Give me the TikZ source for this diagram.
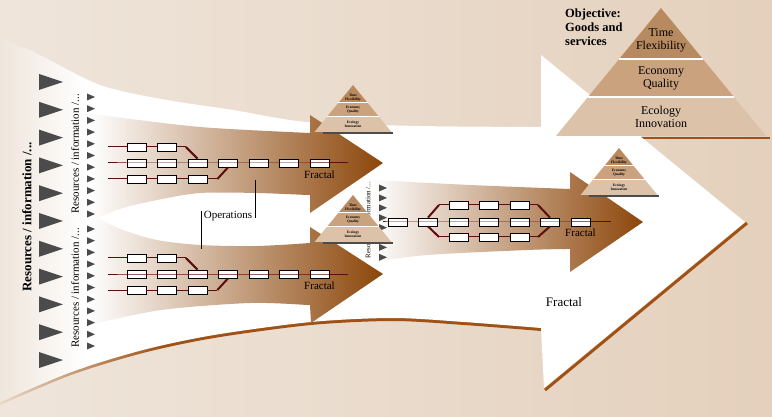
\documentclass[tikz,border=0pt]{standalone}
\usepackage{fontspec}
\setmainfont{Liberation Serif}
\usetikzlibrary{positioning}
\definecolor{bglight}{RGB}{239,229,219}
\definecolor{bgright}{RGB}{228,208,188}
\definecolor{bgbeige}{RGB}{232,216,200}
\definecolor{bandbrown}{RGB}{140,70,10}
\definecolor{shadowbrown}{RGB}{160,82,22}
\definecolor{chainred}{RGB}{92,14,14}
\definecolor{tridark}{RGB}{75,75,75}
\definecolor{pyrtop}{RGB}{184,138,96}
\definecolor{pyrmid}{RGB}{202,162,126}
\definecolor{pyrlow}{RGB}{220,194,168}
\pgfdeclarehorizontalshading{shadowfade}{100bp}{color(0bp)=(bgbeige); color(25bp)=(bgbeige); color(40bp)=(shadowbrown); color(100bp)=(shadowbrown)}
\tikzstyle{link} = [chainred, line width=1pt]

\begin{document}
\begin{tikzpicture}[x=1pt, y=-1pt,
    box/.style={draw=black, fill=white, line width=0.8pt, minimum width=19pt, minimum height=8pt, inner sep=0pt},
    fork/.style={chainred, line width=2pt},
    lbl/.style={inner sep=0pt, font=\fontsize{11}{13}\selectfont},
    restxt/.style={rotate=90, inner sep=0pt, font=\fontsize{11}{13}\selectfont},
    pyrtxt/.style={inner sep=0pt, align=center, font=\fontsize{12}{13}\selectfont},
    tinytxt/.style={inner sep=0pt, align=center, font=\bfseries\fontsize{3.6}{4.2}\selectfont},
  ]

  % Background
  \useasboundingbox (0,0) rectangle (772,417);
  \shade[left color=bglight, right color=bgright] (0,0) rectangle (772,417);

  % Shadows under the big arrow
  \draw[shadowbrown, line width=2.5pt] (557,138) -- (770,138);
  \shade[shading=shadowfade] (0,300) -- plot[smooth] coordinates {(0,405) (71,375) (143,353) (214,338) (311,325) (393,321) (464,325) (541,331)} -- (541,300) -- cycle;
  \draw[shadowbrown, line width=3pt] (545,390) -- (747,223);

  % Big white arrow
  \path[fill=white, save path=\bigarrow]
    plot[smooth] coordinates {(0,40) (33,52) (100,85) (167,100) (233,110) (307,122) (420,126) (541,127)}
    -- (541,55) -- (745,222) -- (544,388) -- (541,328)
    -- plot[smooth] coordinates {(541,328) (464,322) (393,318) (311,322) (214,335) (143,350) (71,372) (0,402)} -- cycle;
  \begin{scope}
    \clip[use path=\bigarrow];
    \shade[left color=bglight, right color=white] (0,30) rectangle (85,410);
  \end{scope}

  % Brown arrows
  \shade[left color=white, right color=bandbrown]
    (90,113) -- plot[smooth] coordinates {(100,115) (200,127) (310,133)}
    -- (310,115) -- (383,163) -- (310,213) -- (310,195)
    -- plot[smooth] coordinates {(307,195) (257,193) (200,193) (157,200) (123,208) (97,218) (90,222)} -- cycle;
  \shade[left color=white, right color=bandbrown]
    (90,214) -- plot[smooth] coordinates {(97,218) (123,230) (157,240) (200,245) (257,246) (310,243)}
    -- (310,227) -- (383,274) -- (311,323) -- (310,305)
    -- plot[smooth] coordinates {(307,305) (250,303) (161,310) (89,325)} -- cycle;
  \shade[left color=white, right color=bandbrown]
    (372,180) -- plot[smooth] coordinates {(374,180) (470,185) (570,189)}
    -- (570,172) -- (643,222) -- (570,272) -- (570,249)
    -- plot[smooth] coordinates {(567,249) (527,250) (427,255) (374,262)} -- (372,262) -- cycle;

  % Inputs
  \foreach \k in {0,...,10} {
    \pgfmathsetmacro\ty{82+27.8*\k}
    \fill[tridark] (39,\ty-8) -- (63,\ty) -- (39,\ty+8) -- cycle;
    \pgfmathsetmacro\ta{97+11.7*\k}
    \pgfmathsetmacro\tb{229+11.7*\k}
    \fill[tridark] (87,\ta-3.5) -- (95,\ta) -- (87,\ta+3.5) -- cycle;
    \fill[tridark] (87,\tb-3.5) -- (95,\tb) -- (87,\tb+3.5) -- cycle;
  }
  \foreach \k in {0,...,7} {
    \pgfmathsetmacro\tm{188+9.9*\k}
    \fill[tridark] (379,\tm-3.5) -- (387,\tm) -- (379,\tm+3.5) -- cycle;
  }
  \node[restxt, font=\bfseries\fontsize{13}{15}\selectfont] (resmain) at (27,217) {Resources / information /...};
  \node[restxt] (resup) at (75,154) {Resources / information /...};
  \node[restxt] (reslo) at (75,288) {Resources / information /...};
  \node[restxt, font=\fontsize{7}{8}\selectfont] (resmid) at (368,220) {Resources / information /...};

  % Process chains
  \foreach \ch/\dy in {u/0, l/111} {
    \foreach \i in {1,2} \node[box] (\ch a\i) at (106+30.5*\i,147+\dy) {};
    \foreach \i in {1,...,7} \node[box] (\ch b\i) at (106+30.5*\i,163+\dy) {};
    \foreach \i in {1,2,3} \node[box] (\ch c\i) at (106+30.5*\i,179+\dy) {};
    \coordinate (\ch as) at (108,147+\dy);
    \coordinate (\ch bs) at (108,163+\dy);
    \coordinate (\ch be) at (348,163+\dy);
    \coordinate (\ch cs) at (108,179+\dy);
    \draw[link] (\ch as) -- (\ch a1) -- (\ch a2);
    \draw[link] (\ch a2.east) -- ++(9,0) coordinate (\ch aj);
    \draw[fork] (\ch aj) -- (\ch b3.north);
    \draw[link] (\ch bs) \foreach \i in {1,...,7} { -- (\ch b\i) } -- (\ch be);
    \draw[link] (\ch cs) -- (\ch c1) -- (\ch c2) -- (\ch c3);
    \draw[link] (\ch c3.east) -- ++(10,0) coordinate (\ch cj);
    \draw[fork] (\ch cj) -- (\ch b4.south);
    \node[lbl, below=3pt of \ch b7] (\ch frac) {Fractal};
  }

  \foreach \i in {1,...,7} \node[box] (m\i) at (367+30.5*\i,222) {};
  \foreach \i in {1,2,3} {
    \node[box] (t\i) at (428+30.5*\i,205) {};
    \node[box] (d\i) at (428+30.5*\i,237) {};
  }
  \coordinate (ms) at (383,222);
  \coordinate (me) at (611,222);
  \coordinate (tl) at (439,205);
  \coordinate (tr) at (538,205);
  \coordinate (dl) at (439,237);
  \coordinate (dr) at (538,237);
  \draw[link] (ms) \foreach \i in {1,...,7} { -- (m\i) } -- (me);
  \draw[link] (tl) -- (t1) -- (t2) -- (t3) -- (tr);
  \draw[link] (dl) -- (d1) -- (d2) -- (d3) -- (dr);
  \draw[fork] (m2.north) -- (tl);
  \draw[fork] (tr) -- (m6.north);
  \draw[fork] (m2.south) -- (dl);
  \draw[fork] (dr) -- (m6.south);
  \node[lbl, below=2pt of m7] (mfrac) {Fractal};

  % Operations
  \node[lbl] (ops) at (228,216) {Operations};
  \coordinate (opsup) at (255,180);
  \coordinate (opsdown) at (201,249);
  \draw[line width=0.8pt] (opsup) -- (opsup |- ops.base);
  \draw[line width=0.8pt] (opsdown) -- (opsdown |- ops.north);

  % Small pyramids
  \foreach \px/\py/\n in {353/85/a, 353/195/b, 619/148/c} {
    \draw[gray!60!black, line width=1.5pt] (\px-30,\py+48) -- (\px+40,\py+48);
    \fill[pyrtop] (\px,\py) -- (\px+14.7,\py+18) -- (\px-14.7,\py+18) -- cycle;
    \fill[pyrmid] (\px-14.7,\py+18) -- (\px+14.7,\py+18) -- (\px+26.2,\py+32) -- (\px-26.2,\py+32) -- cycle;
    \fill[pyrlow] (\px-26.2,\py+32) -- (\px+26.2,\py+32) -- (\px+38.5,\py+47) -- (\px-38.5,\py+47) -- cycle;
    \draw[white, line width=1pt] (\px-14.7,\py+18) -- (\px+14.7,\py+18) (\px-26.2,\py+32) -- (\px+26.2,\py+32);
    \node[tinytxt] (time\n) at (\px,\py+13) {Time\\Flexibility};
    \node[tinytxt] (econ\n) at (\px,\py+25) {Economy\\Quality};
    \node[tinytxt] (ecol\n) at (\px,\py+39.5) {Ecology\\Innovation};
  }

  % Objective pyramid
  \fill[pyrtop] (661,8) -- (702.8,59) -- (619.2,59) -- cycle;
  \fill[pyrmid] (619.2,59) -- (702.8,59) -- (734,97) -- (588,97) -- cycle;
  \fill[pyrlow] (588,97) -- (734,97) -- (766,136) -- (556,136) -- cycle;
  \draw[white, line width=1.5pt] (619.2,59) -- (702.8,59) (588,97) -- (734,97);
  \node[pyrtxt] (time) at (661,40) {Time\\Flexibility};
  \node[pyrtxt] (econ) at (661,78) {Economy\\Quality};
  \node[pyrtxt] (ecol) at (661,117) {Ecology\\Innovation};
  \node[anchor=north west, align=left, inner sep=0pt, font=\bfseries\fontsize{12.5}{14}\selectfont] (objective) at (565,9) {Objective:\\Goods and\\services};

  \node[lbl, font=\fontsize{13}{15}\selectfont] (fracbig) at (564,302) {Fractal};

\end{tikzpicture}
\end{document}
